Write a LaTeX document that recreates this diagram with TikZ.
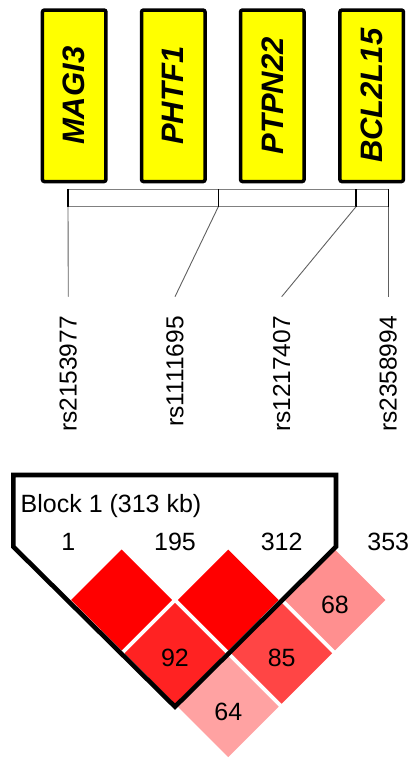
\documentclass[tikz,border=0pt]{standalone}
\usepackage{fontspec}
\setmainfont{Liberation Sans}
\usetikzlibrary{shapes.geometric}

\definecolor{genefill}{HTML}{FFFF00}
\definecolor{barline}{HTML}{808080}
\definecolor{snpline}{HTML}{606060}
\definecolor{ldfull}{HTML}{FF0000}
\definecolor{ldnine}{HTML}{FF2222}
\definecolor{ldeight}{HTML}{FF4545}
\definecolor{ldsixeight}{HTML}{FF8F8F}
\definecolor{ldsixfour}{HTML}{FFA2A2}

\tikzset{
  genebox/.style={draw=black, line width=3.5pt, fill=genefill, rounded corners=2pt,
    minimum width=63.5pt, minimum height=171.5pt, inner sep=0pt},
  genelabel/.style={rotate=90, font=\fontsize{31}{33}\selectfont\bfseries\itshape, inner sep=0pt},
  snplabel/.style={rotate=90, anchor=east, font=\fontsize{24.5}{26}\selectfont, inner sep=0pt},
  snpconn/.style={draw=snpline, line width=0.9pt},
  tickmark/.style={draw=black, line width=1.6pt},
  ldcell/.style={diamond, aspect=1, minimum width=101pt, minimum height=101pt,
    inner sep=0pt, draw=none, fill=#1},
  ldnum/.style={font=\fontsize{25}{27}\selectfont, inner sep=0pt},
  posnum/.style={font=\fontsize{25}{27}\selectfont, inner sep=0pt},
  blockline/.style={draw=black, line width=4.6pt, line join=miter}
}

\begin{document}
\begin{tikzpicture}[x=1pt, y=-1pt]
\useasboundingbox (0,0) rectangle (411,758);

% gene boxes
\node[genebox] (g1) at (74.2,95.8) {};
\node[genebox] (g2) at (173.3,95.8) {};
\node[genebox] (g3) at (272.3,95.8) {};
\node[genebox] (g4) at (371.7,95.8) {};
\node[genelabel] (t1) at (g1) {MAGI3};
\node[genelabel] (t2) at (g2) {PHTF1};
\node[genelabel] (t3) at (g3) {PTPN22};
\node[genelabel] (t4) at (g4) {BCL2L15};

% physical map bar with SNP ticks
\draw[draw=barline, line width=0.9pt] (68,189.3) rectangle (388.3,206.7);
\foreach \i/\x in {1/68, 2/218.3, 3/356, 4/388.3} {
  \coordinate (top\i) at (\x,189.3);
  \coordinate (bot\i) at (\x,206.7);
  \draw[tickmark] (top\i) -- (bot\i);
}

% ends of the connectors above the SNP names
\coordinate (end1) at (68.3,296.7);
\coordinate (end2) at (175,296.7);
\coordinate (end3) at (281.7,296.7);
\coordinate (end4) at (388.3,296.7);
\foreach \i in {1,2,3,4} { \draw[snpconn] (bot\i) -- (end\i); }

% SNP names, each reading upwards from below
\node[snplabel] (s1) at (68.3,316) {rs2153977};
\node[snplabel] (s2) at (175,316) {rs1111695};
\node[snplabel] (s3) at (281.7,316) {rs1217407};
\node[snplabel] (s4) at (388.3,316) {rs2358994};

% LD cells
\node[ldcell=ldfull] (c12) at (121.6,600) {};
\node[ldcell=ldfull] (c23) at (228.3,600) {};
\node[ldcell=ldsixeight, label={[ldnum, yshift=-5pt]center:68}] (c34) at (335,600) {};
\node[ldcell=ldnine, label={[ldnum, yshift=-5pt]center:92}] (c13) at (175,653.3) {};
\node[ldcell=ldeight, label={[ldnum, yshift=-5pt]center:85}] (c24) at (281.7,653.3) {};
\node[ldcell=ldsixfour, label={[ldnum, yshift=-5pt]center:64}] (c14) at (228.3,706.7) {};

% haplotype block outline
\draw[blockline] (13.3,475) -- (336,475) -- (336,546.7) -- (175,706.7) -- (13.3,546.7) -- cycle;
\node[posnum, anchor=west] (blk) at (20.5,506) {Block 1 (313 kb)};

% marker positions
\node[posnum] (p1) at (68.3,541.7) {1};
\node[posnum] (p2) at (175,541.7) {195};
\node[posnum] (p3) at (281.7,541.7) {312};
\node[posnum] (p4) at (388.3,541.7) {353};
\end{tikzpicture}
\end{document}
